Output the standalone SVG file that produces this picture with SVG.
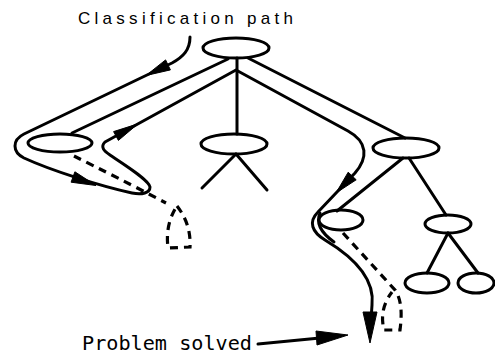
<svg xmlns="http://www.w3.org/2000/svg" width="495" height="355" viewBox="0 0 495 355">
<style>
.node{fill:none;stroke:#000;stroke-width:3}
.edge{fill:none;stroke:#000;stroke-width:3;stroke-linecap:round}
.path{fill:none;stroke:#000;stroke-width:3;stroke-linejoin:round;stroke-linecap:round}
.dash{fill:none;stroke:#000;stroke-width:3.2;stroke-dasharray:8 6}
.head{fill:#000;stroke:#000;stroke-width:1;stroke-linejoin:round}
.lbl{font-family:"Liberation Sans",Arial,sans-serif;fill:#000}
</style>
<rect width="495" height="355" fill="#fff"/>
<g id="connectors">
<line class="edge" x1="228" y1="59" x2="72" y2="133"/>
<line class="edge" x1="237" y1="58" x2="237" y2="134"/>
<line class="edge" x1="248" y1="58" x2="405" y2="138"/>
<line class="edge" x1="236" y1="154" x2="202" y2="188"/>
<line class="edge" x1="236" y1="154" x2="267" y2="190"/>
<line class="edge" x1="403" y1="158" x2="337" y2="211"/>
<line class="edge" x1="409" y1="158" x2="446" y2="215"/>
<line class="edge" x1="448" y1="233" x2="427" y2="273"/>
<line class="edge" x1="448" y1="233" x2="478" y2="273"/>
</g>
<g id="classification-path">
<path class="path" d="M 190 37 C 190 50 183 57 172 63 L 24 134 C 12 140 12 152 24 158 C 50 170 100 186 132 193 C 142 195 150 193 150 187 C 149 180 125 165 110 155 C 104 151 100 147 105 142 L 236 70 L 348 131 C 368 142 368 158 355 173 L 318 212 C 308 222 312 232 325 240 C 355 258 375 280 372 305 L 371 320"/>
<path class="path" d="M 320 213 C 316 222 320 232 334 242"/>
<polygon class="head" points="146,75.5 170.4,69.9 165.6,59.9"/>
<polygon class="head" points="96,185.5 71.1,182.2 74.9,171.8"/>
<polygon class="head" points="138,123.8 118.4,140.4 113.6,131.6"/>
<polygon class="head" points="336,193 356.2,179.8 348.2,172.2"/>
<polygon class="head" points="370,343 363,312 377,312"/>
</g>
<g id="dashed-paths">
<path class="dash" d="M 74 156 C 100 169 132 185 166 203"/>
<path class="dash" d="M 177 206 C 184 215 191 228 190 247 L 168 248 C 166 232 169 218 177 206"/>
<path class="dash" d="M 343 233 L 395 290 C 402 300 402 315 400 330 L 384 330 C 381 318 382 305 392 292"/>
</g>
<g id="node-root"><ellipse class="node" cx="236" cy="48" rx="33" ry="10"/></g>
<g id="node-left"><ellipse class="node" cx="60" cy="143" rx="32" ry="9"/></g>
<g id="node-middle"><ellipse class="node" cx="234" cy="144" rx="33" ry="10"/></g>
<g id="node-right"><ellipse class="node" cx="406" cy="148" rx="33" ry="10"/></g>
<g id="node-right-left"><ellipse class="node" cx="341" cy="220" rx="22" ry="10"/></g>
<g id="node-right-right"><ellipse class="node" cx="448" cy="224" rx="23" ry="9"/></g>
<g id="node-rrl"><ellipse class="node" cx="427" cy="283" rx="22" ry="10"/></g>
<g id="node-rrr"><ellipse class="node" cx="476" cy="283" rx="18" ry="10"/></g>
<g id="label-classification">
<text class="lbl" x="78" y="24" font-size="17" textLength="215" lengthAdjust="spacing">Classification path</text>
</g>
<g id="label-solved">
<text x="82" y="350" font-family="'DejaVu Sans Mono','Liberation Mono',monospace" font-size="19" fill="#000" textLength="170" lengthAdjust="spacingAndGlyphs">Problem solved</text>
<line class="edge" x1="258" y1="344" x2="320" y2="338"/>
<polygon class="head" points="348,335 316,331 317,345"/>
</g>
</svg>
